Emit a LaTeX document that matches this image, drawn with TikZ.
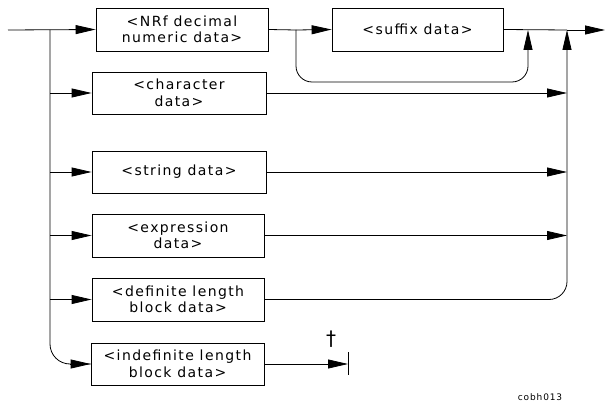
\documentclass[tikz,border=0pt]{standalone}
\usepackage{fontspec}
\setmainfont{DejaVu Sans}[LetterSpace=10]
\usetikzlibrary{arrows.meta}
\begin{document}
\begin{tikzpicture}[x=1pt,y=-1pt,line width=0.8pt,
  box/.style={draw,minimum width=172pt,minimum height=43pt,inner sep=0pt,align=center,
    font=\fontsize{14}{16.5}\selectfont},
  arr/.style={-{Triangle[length=20pt,width=9pt]}},
  lbl/.style={font=\fontsize{9}{10}\selectfont}]
\useasboundingbox (0,0) rectangle (605,406);
\node[box] (nrf) at (182,29.5) {<NRf decimal\\numeric data>};
\node[box,minimum width=171pt] (suf) at (417.5,29.5) {<suffix data>};
\node[box,minimum width=174pt,minimum height=42pt] (chr) at (179,93) {<character\\data>};
\node[box,minimum width=174pt,minimum height=42pt] (str) at (179,172) {<string data>};
\node[box] (exp) at (178,235.5) {<expression\\data>};
\node[box] (def) at (178,299.5) {<definite length\\block data>};
\node[box,minimum width=173pt,minimum height=42pt] (ind) at (177.5,364) {<indefinite length\\block data>};
\coordinate (start) at (8,30);
\coordinate (fork) at (50,30);
\coordinate (split) at (296,30);
\coordinate (join) at (528,30);
\coordinate (bus) at (567,30);
\coordinate (out) at (605,30);
\coordinate (stop) at (348,364);
% main line
\draw[arr] (start) -- (nrf.west);
\draw (nrf.east) -- (split);
\draw[arr] (split) -- (suf.west);
\draw (suf.east) -- (bus);
\draw[arr] (bus) -- (out);
% suffix bypass
\draw[arr,rounded corners=16pt] (split) -- (296,82) -- (528,82) -- (join);
% left fork
\draw[rounded corners=20pt] (fork) -- (50,364) -- (ind.west);
\draw[arr] (50,364) ++(20,0) -- (ind.west);
\draw[arr] (fork |- chr.west) -- (chr.west);
\draw[arr] (fork |- str.west) -- (str.west);
\draw[arr] (fork |- exp.west) -- (exp.west);
\draw[arr] (fork |- def.west) -- (def.west);
% right bus
\draw[arr] (chr.east) -- (bus |- chr.east);
\draw[arr] (str.east) -- (bus |- str.east);
\draw[arr] (exp.east) -- (bus |- exp.east);
\draw[arr,rounded corners=18pt] (def.east) -- (bus |- def.east) -- (bus);
% indefinite end
\draw[arr] (ind.east) -- (stop);
\draw (348,352) -- (348,375);
\node[font=\fontsize{20}{20}\selectfont] (dag) at (331,339) {\dag};
\node[lbl] (code) at (540,397) {cobh013};
\end{tikzpicture}
\end{document}
